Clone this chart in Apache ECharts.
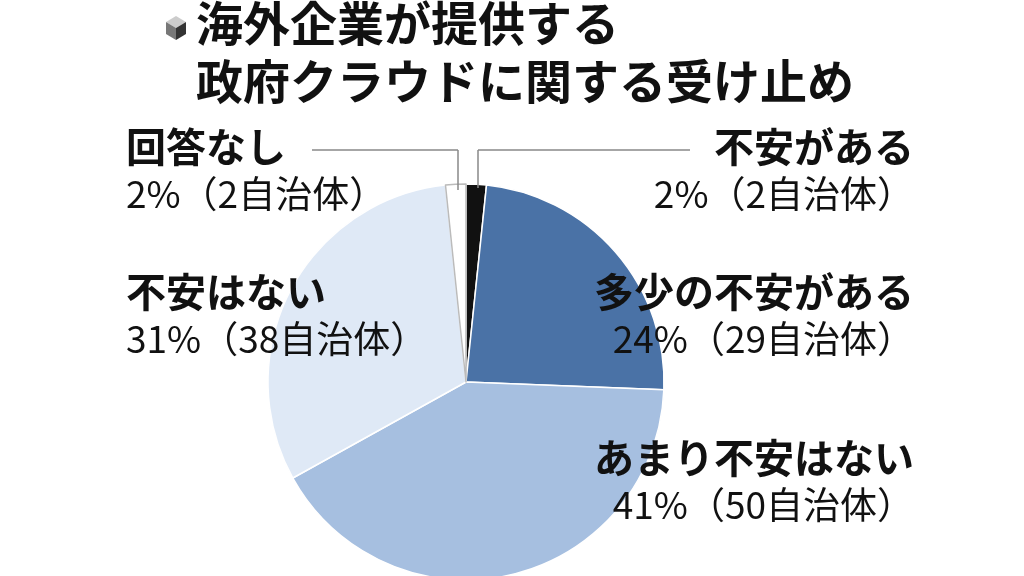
<!DOCTYPE html>
<html><head><meta charset="utf-8">
<script src="https://cdn.jsdelivr.net/npm/echarts@6/dist/echarts.min.js"></script>
<style>html,body{margin:0;padding:0;background:#fff}#c{width:1024px;height:576px}</style>
</head><body><div id="c"></div>
<script>
const categories = ['不安がある','多少の不安がある','あまり不安はない','不安はない','回答なし'];
const counts = [2, 29, 50, 38, 2];
const percents = [2, 24, 41, 31, 2];
const colors = ['#111111','#4a72a6','#a6bfe0','#dfe9f6','#ffffff'];
const titleLines = ['海外企業が提供する','政府クラウドに関する受け止め'];
const F = '"Noto Sans CJK JP", sans-serif';
const chart = echarts.init(document.getElementById('c'));
function lbl(name, pct, cnt, x, y, align){
  const pos = align==='left' ? {left:x} : {right:1024-x};
  return [
    Object.assign({type:'text', top:y, z:100, style:{text:name, font:'bold 40px '+F, fill:'#111'}}, pos),
    Object.assign({type:'text', top:y+48, z:100, style:{text:pct+'%（'+cnt+'自治体）', font:'37px '+F, fill:'#111'}}, pos)
  ];
}
const g = [
  {type:'polygon', shape:{points:[[166,22],[176,16],[186,22],[176,28]]}, style:{fill:'#ccc'}},
  {type:'polygon', shape:{points:[[166,22],[176,28],[176,40],[166,34]]}, style:{fill:'#777'}},
  {type:'polygon', shape:{points:[[176,28],[186,22],[186,34],[176,40]]}, style:{fill:'#333'}},
  {type:'text', left:196, top:0, style:{text:titleLines[0], font:'bold 47px '+F, fill:'#111'}},
  {type:'text', left:196, top:58, style:{text:titleLines[1], font:'bold 47px '+F, fill:'#111'}},
  {type:'line', z:50, shape:{x1:312,y1:150,x2:458,y2:150}, style:{stroke:'#888',lineWidth:1.5}},
  {type:'line', z:50, shape:{x1:458,y1:150,x2:458,y2:190}, style:{stroke:'#888',lineWidth:1.5}},
  {type:'line', z:50, shape:{x1:478,y1:150,x2:690,y2:150}, style:{stroke:'#888',lineWidth:1.5}},
  {type:'line', z:50, shape:{x1:478,y1:150,x2:478,y2:188}, style:{stroke:'#888',lineWidth:1.5}},
  ...lbl(categories[4], percents[4], counts[4], 126, 127, 'left'),
  ...lbl(categories[0], percents[0], counts[0], 914, 127, 'right'),
  ...lbl(categories[1], percents[1], counts[1], 914, 272, 'right'),
  ...lbl(categories[3], percents[3], counts[3], 126, 272, 'left'),
  ...lbl(categories[2], percents[2], counts[2], 914, 438, 'right')
];
chart.setOption({
  backgroundColor:'#fff',
  animation:false,
  series:[{
    type:'pie', center:[466,382], radius:198, startAngle:90, clockwise:true, z:1,
    label:{show:false}, labelLine:{show:false}, silent:true,
    itemStyle:{borderColor:'#fff', borderWidth:1.5},
    data: categories.map((c,i)=>({name:c, value:counts[i], itemStyle:{color:colors[i], borderColor: i===4?'#bbb':'#fff'}}))
  }],
  graphic: g
});
</script></body></html>
